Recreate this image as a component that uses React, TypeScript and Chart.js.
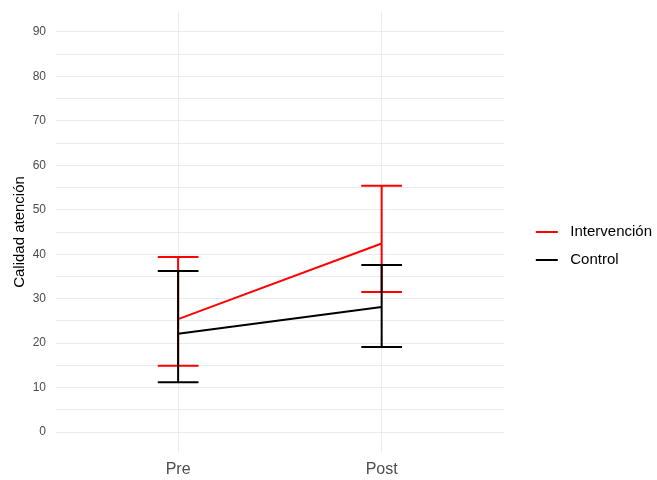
import React, { useEffect, useRef } from "react";
import { Chart, registerables } from "chart.js";

Chart.register(...registerables);

const categories = ["Pre", "Post"];
const seriesNames = ["Intervención", "Control"];
const seriesColors = ["#FF0000", "#000000"];

const intervMean = [25.4, 42.4];
const intervLow = [14.9, 31.5];
const intervHigh = [39.4, 55.4];

const controlMean = [22.1, 28.1];
const controlLow = [11.2, 19.1];
const controlHigh = [36.2, 37.6];

const yMajorTicks = [0, 10, 20, 30, 40, 50, 60, 70, 80, 90];
const yMinorTicks = [5, 15, 25, 35, 45, 55, 65, 75, 85];

const yTitle = "Calidad atención";

const FONT = "'Liberation Sans', Arial, sans-serif";

function makeLegendLine(color: string) {
  const c = document.createElement("canvas");
  c.width = 46;
  c.height = 4;
  const ctx = c.getContext("2d")!;
  ctx.fillStyle = color;
  ctx.fillRect(19, 1, 22, 2);
  return c;
}

const errorBarPlugin = {
  id: "errorBars",
  afterDatasetsDraw(chart: any) {
    const { ctx, scales } = chart;
    const xs = scales.x;
    const ys = scales.y;
    const groups = [
      { low: intervLow, high: intervHigh, color: seriesColors[0] },
      { low: controlLow, high: controlHigh, color: seriesColors[1] },
    ];
    ctx.save();
    ctx.lineWidth = 2;
    ctx.lineCap = "butt";
    groups.forEach((g) => {
      ctx.strokeStyle = g.color;
      categories.forEach((_, i) => {
        const x = xs.getPixelForValue(i);
        const xl = xs.getPixelForValue(i - 0.1);
        const xr = xs.getPixelForValue(i + 0.1);
        const yl = ys.getPixelForValue(g.low[i]);
        const yh = ys.getPixelForValue(g.high[i]);
        ctx.beginPath();
        ctx.moveTo(xl, yh);
        ctx.lineTo(xr, yh);
        ctx.moveTo(x, yh);
        ctx.lineTo(x, yl);
        ctx.moveTo(xl, yl);
        ctx.lineTo(xr, yl);
        ctx.stroke();
      });
    });
    ctx.restore();
  },
};

export default function App() {
  const ref = useRef<HTMLCanvasElement | null>(null);

  useEffect(() => {
    document.body.style.margin = "0";
    const canvas = ref.current!;
    const means = [intervMean, controlMean];
    const chart = new Chart(canvas, {
      type: "line",
      data: {
        datasets: seriesNames.map((name, s) => ({
          label: name,
          data: categories.map((_, i) => ({ x: i, y: means[s][i] })),
          borderColor: seriesColors[s],
          backgroundColor: seriesColors[s],
          borderWidth: 2,
          pointRadius: 0,
          pointHoverRadius: 0,
          pointStyle: makeLegendLine(seriesColors[s]) as any,
          tension: 0,
        })),
      },
      options: {
        responsive: false,
        animation: false,
        devicePixelRatio: 1,
        layout: { padding: { top: 12, right: -5, bottom: 0, left: 0 } },
        plugins: {
          tooltip: { enabled: false },
          legend: {
            position: "right",
            align: "center",
            labels: {
              usePointStyle: true,
              pointStyleWidth: 46,
              padding: 13,
              color: "#000000",
              font: { family: FONT, size: 15 },
              sort: (a: any, b: any) => a.datasetIndex - b.datasetIndex,
            },
          },
        },
        scales: {
          x: {
            type: "linear",
            min: -0.6,
            max: 1.6,
            afterBuildTicks: (s: any) => {
              s.ticks = categories.map((_, i) => ({ value: i }));
            },
            afterFit: (s: any) => {
              s.height = 28;
              s.paddingLeft = 0;
              s.paddingRight = 0;
            },
            ticks: {
              autoSkip: false,
              maxRotation: 0,
              padding: 8,
              color: "#4D4D4D",
              font: { family: FONT, size: 16 },
              callback: (v: any) => categories[Number(v)] ?? "",
            },
            grid: { color: "#EBEBEB", lineWidth: 1, drawTicks: false },
            border: { display: false },
          },
          y: {
            type: "linear",
            min: -4.5,
            max: 94.5,
            afterBuildTicks: (s: any) => {
              s.ticks = [...yMajorTicks, ...yMinorTicks]
                .sort((a, b) => a - b)
                .map((v) => ({ value: v }));
            },
            afterFit: (s: any) => {
              s.width = 56;
              s.paddingTop = 0;
              s.paddingBottom = 0;
            },
            ticks: {
              autoSkip: false,
              padding: 10,
              color: "#4D4D4D",
              font: { family: FONT, size: 12 },
              callback: (v: any) => (yMajorTicks.includes(Number(v)) ? String(v) : ""),
            },
            grid: { color: "#EBEBEB", lineWidth: 1, drawTicks: false },
            border: { display: false },
            title: {
              display: true,
              text: yTitle,
              color: "#000000",
              font: { family: FONT, size: 15 },
              padding: { top: 11, bottom: 0 },
            },
          },
        },
      },
      plugins: [errorBarPlugin],
    });
    return () => chart.destroy();
  }, []);

  return (
    <div style={{ width: 657, height: 480, background: "#ffffff" }}>
      <canvas ref={ref} width={657} height={480} style={{ display: "block" }} />
    </div>
  );
}
